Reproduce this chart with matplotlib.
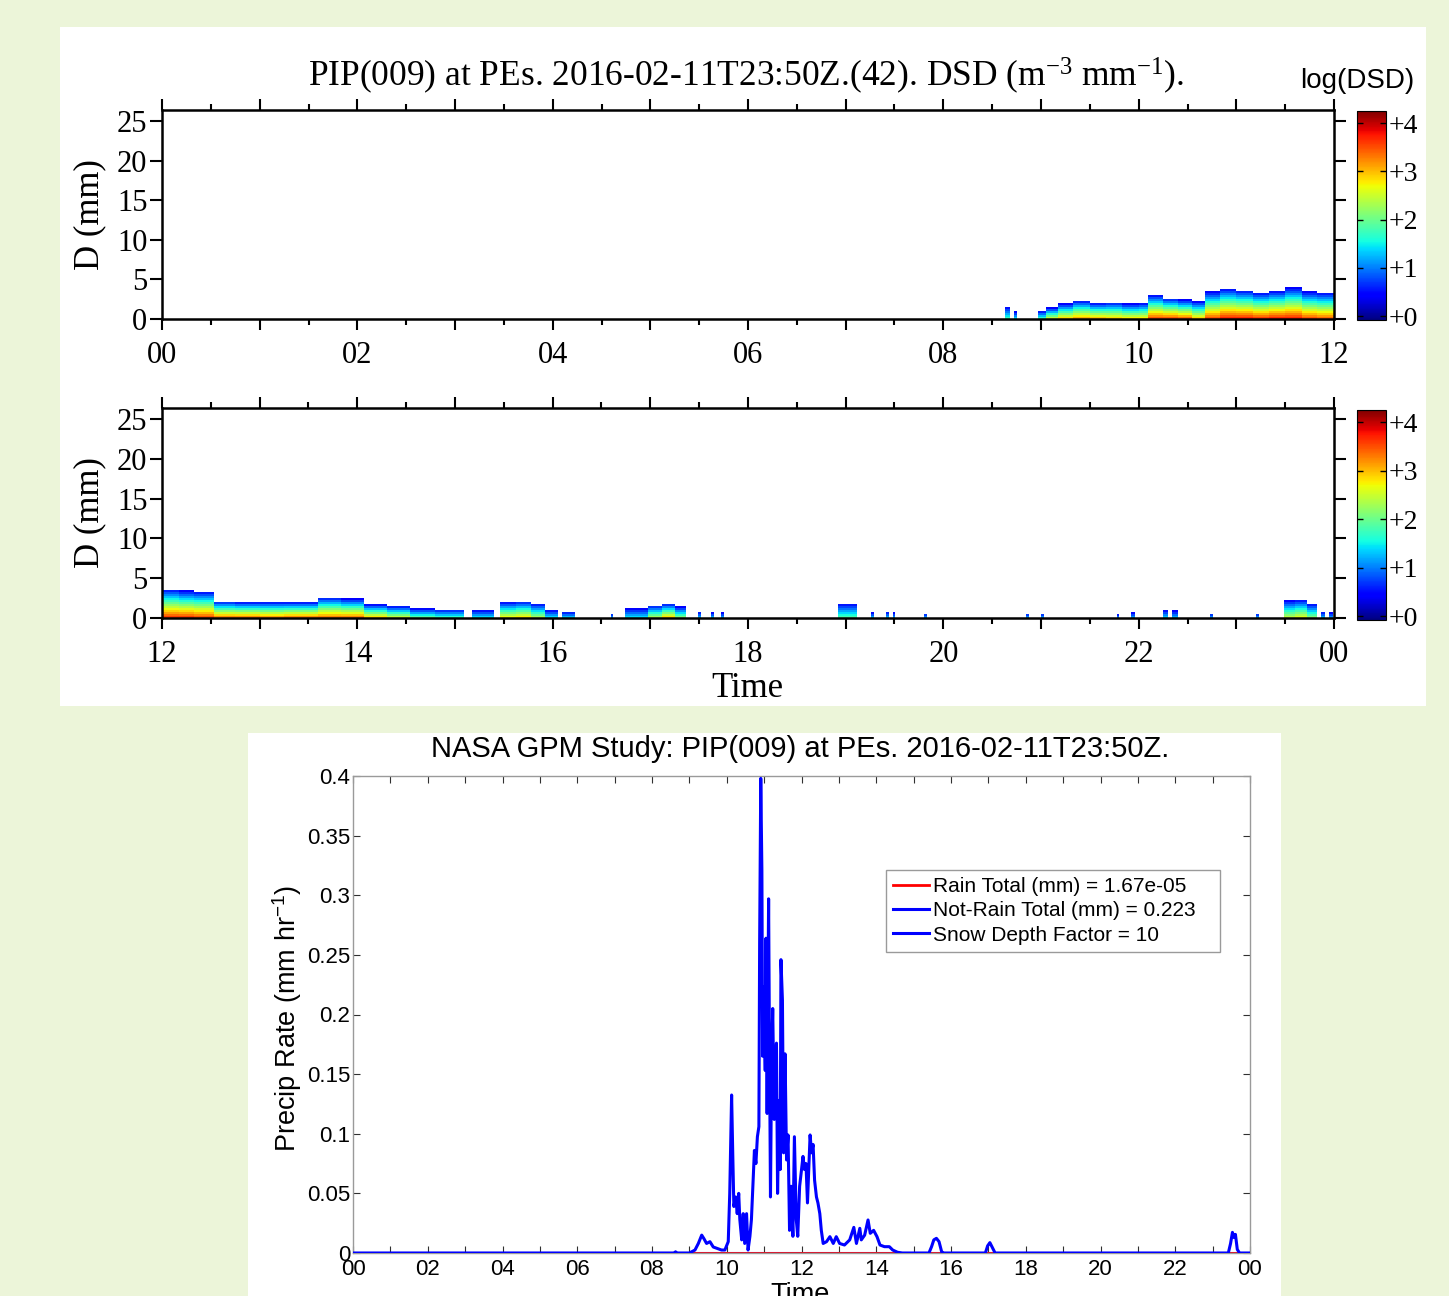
import numpy as np
import matplotlib
matplotlib.use('Agg')
import matplotlib.pyplot as plt
from matplotlib.patches import Rectangle
from matplotlib.cm import ScalarMappable
from matplotlib.colors import Normalize

W, H = 1449, 1296
SERIF = 'Liberation Serif'
SANS = 'Liberation Sans'
plt.rcParams['font.family'] = SERIF
plt.rcParams['axes.unicode_minus'] = False

# --- DSD segments 00-12 (hours, top diameter mm, peak log10 DSD)
top_start = [8.63, 8.72, 8.97, 9.05, 9.17, 9.33, 9.50, 9.67, 9.83, 10.00, 10.10,
             10.25, 10.40, 10.55, 10.68, 10.83, 11.00, 11.17, 11.33, 11.50, 11.67, 11.83]
top_end = [8.68, 8.75, 9.05, 9.17, 9.33, 9.50, 9.67, 9.83, 10.00, 10.10, 10.25,
           10.40, 10.55, 10.68, 10.83, 11.00, 11.17, 11.33, 11.50, 11.67, 11.83, 12.00]
top_dmax = [1.5, 0.9, 1.0, 1.4, 1.9, 2.3, 2.0, 2.1, 1.9, 2.0, 3.0,
            2.6, 2.4, 2.2, 3.4, 3.8, 3.6, 3.3, 3.5, 3.9, 3.4, 3.3]
top_peak = [1.8, 1.5, 1.8, 2.6, 3.0, 3.2, 3.1, 3.0, 2.9, 2.9, 3.6,
            3.6, 3.5, 3.0, 3.6, 3.8, 3.8, 3.7, 3.8, 3.8, 3.6, 3.5]

# --- DSD segments 12-24
bot_start = [12.00, 12.17, 12.33, 12.53, 12.75, 13.00, 13.25, 13.60, 13.83, 14.07,
             14.30, 14.54, 14.80, 15.17, 15.46, 15.62, 15.78, 15.92, 16.10, 16.60,
             16.74, 16.98, 17.12, 17.25, 17.49, 17.62, 17.72, 18.92, 19.26, 19.41,
             19.48, 19.80, 20.85, 21.00, 21.78, 21.92, 22.25, 22.34, 22.73, 23.20,
             23.49, 23.60, 23.72, 23.87, 23.95]
bot_end = [12.17, 12.33, 12.53, 12.75, 13.00, 13.25, 13.60, 13.83, 14.07, 14.30,
           14.54, 14.80, 15.09, 15.40, 15.62, 15.78, 15.92, 16.05, 16.23, 16.62,
           16.98, 17.12, 17.25, 17.37, 17.52, 17.65, 17.75, 19.12, 19.29, 19.44,
           19.51, 19.83, 20.88, 21.03, 21.80, 21.96, 22.30, 22.40, 22.76, 23.23,
           23.60, 23.72, 23.83, 23.91, 23.99]
bot_dmax = [3.6, 3.4, 3.3, 2.1, 2.0, 2.0, 2.0, 2.6, 2.4, 1.7,
            1.5, 1.2, 1.1, 1.0, 2.0, 2.1, 1.8, 1.0, 0.8, 0.6,
            1.2, 1.6, 1.8, 1.4, 0.8, 0.7, 0.7, 1.8, 0.7, 0.8,
            0.7, 0.6, 0.6, 0.6, 0.5, 0.7, 1.0, 0.9, 0.6, 0.6,
            2.2, 2.3, 1.8, 0.8, 0.7]
bot_peak = [3.7, 3.7, 3.6, 3.4, 3.4, 3.3, 3.4, 3.4, 3.4, 3.0,
            2.6, 2.0, 1.8, 1.5, 2.8, 2.9, 2.4, 1.5, 1.4, 1.2,
            1.5, 2.4, 3.0, 2.2, 1.3, 1.3, 1.2, 1.9, 1.3, 1.3,
            1.2, 1.2, 1.2, 1.2, 1.1, 1.2, 1.4, 1.3, 1.2, 1.2,
            2.5, 2.7, 2.2, 1.3, 1.2]

# --- precip rate (mm/hr)
rate_t = [0.0, 8.60, 8.63, 8.66, 9.00,
          9.15, 9.24, 9.33, 9.39, 9.46, 9.55, 9.64, 9.73, 9.86, 9.95,
          10.04, 10.08, 10.13, 10.16, 10.19, 10.24, 10.28, 10.32, 10.35, 10.40,
          10.44, 10.48, 10.53, 10.57, 10.62, 10.66, 10.71, 10.74, 10.78, 10.82,
          10.86, 10.88, 10.91, 10.94, 10.96, 10.99, 11.03, 11.05, 11.08, 11.12,
          11.14, 11.17, 11.20, 11.23, 11.27, 11.30, 11.33, 11.36, 11.40, 11.43,
          11.45, 11.49, 11.52, 11.56, 11.60, 11.64, 11.68, 11.72, 11.77, 11.81,
          11.86, 11.90, 11.95, 11.99, 12.04, 12.08, 12.12, 12.16, 12.20, 12.23,
          12.27, 12.31, 12.35, 12.40, 12.44, 12.49, 12.53, 12.58, 12.67, 12.76,
          12.85, 12.93, 13.02, 13.15, 13.29, 13.40, 13.47, 13.56, 13.60, 13.69,
          13.78, 13.84, 13.93, 14.02, 14.10, 14.22, 14.35, 14.44, 14.57, 14.70,
          15.41, 15.48, 15.54, 15.61, 15.68, 15.75, 15.81,
          16.92, 16.98, 17.04, 17.10, 17.18,
          23.42, 23.48, 23.53, 23.57, 23.61, 23.66, 23.72, 24.0]
not_rain = [0, 0, 0.001, 0, 0,
            0.0025, 0.008, 0.015, 0.012, 0.008, 0.0095, 0.005, 0.004, 0.0025, 0.0025,
            0.0095, 0.05, 0.1325, 0.084, 0.039, 0.047, 0.033, 0.05, 0.028, 0.011,
            0.033, 0.008, 0.033, 0.0025, 0.014, 0.028, 0.064, 0.086, 0.075, 0.0975,
            0.106, 0.261, 0.398, 0.321, 0.165, 0.223, 0.153, 0.264, 0.117, 0.297,
            0.187, 0.047, 0.162, 0.205, 0.112, 0.162, 0.176, 0.05, 0.128, 0.07,
            0.246, 0.212, 0.084, 0.167, 0.078, 0.099, 0.019, 0.056, 0.014, 0.0975,
            0.028, 0.014, 0.056, 0.067, 0.081, 0.07, 0.075, 0.042, 0.075, 0.099,
            0.084, 0.091, 0.061, 0.047, 0.042, 0.033, 0.019, 0.008, 0.0095, 0.0137,
            0.008, 0.0137, 0.008, 0.0067, 0.011, 0.0215, 0.008, 0.0207, 0.011, 0.015,
            0.0277, 0.0165, 0.019, 0.0137, 0.0067, 0.0053, 0.0053, 0.0025, 0.0006, 0,
            0, 0.0053, 0.011, 0.0123, 0.0095, 0.001, 0,
            0, 0.006, 0.0087, 0.005, 0,
            0, 0.008, 0.0173, 0.013, 0.0156, 0.003, 0, 0]
rain_t = [0.0, 24.0]
rain = [0.0, 0.0]
snow_t = [0.0, 24.0]
snow_depth = [0.0, 0.0]

top_labels = ['00', '02', '04', '06', '08', '10', '12']
bot_labels = ['12', '14', '16', '18', '20', '22', '00']
rate_labels = ['00', '02', '04', '06', '08', '10', '12', '14', '16', '18', '20', '22', '00']


def fbox(x0, y0, x1, y1):
    return [x0 / W, 1 - y1 / H, (x1 - x0) / W, (y1 - y0) / H]


fig = plt.figure(figsize=(W / 100, H / 100), dpi=100)
fig.patch.set_facecolor('#ecf5d9')
fig.add_artist(Rectangle((60 / W, 1 - 706 / H), 1366 / W, 679 / H,
                         transform=fig.transFigure, facecolor='white',
                         edgecolor='none', zorder=-2))
fig.add_artist(Rectangle((248 / W, 0), 1033 / W, 1 - 733 / H,
                         transform=fig.transFigure, facecolor='white',
                         edgecolor='none', zorder=-2))

norm = Normalize(vmin=-0.08, vmax=4.25)
d_edges = np.arange(0, 5.01, 0.25)
d_mid = 0.5 * (d_edges[:-1] + d_edges[1:])


def draw_dsd(ax, starts, ends, dmax, peak, x0, labels):
    for s, e, dm, pk in zip(starts, ends, dmax, peak):
        col = pk - (pk - 0.4) * d_mid / dm
        col = np.where(d_mid <= dm, col, np.nan)
        ax.pcolormesh([s, e], d_edges, np.ma.masked_invalid(col)[:, None],
                      cmap='jet', norm=norm, shading='flat', antialiased=False)
    ax.set_xlim(x0, x0 + 12)
    ax.set_ylim(0, 26.4)
    ax.set_xticks(np.arange(x0, x0 + 12.1, 1))
    ax.set_xticklabels([labels[i // 2] if i % 2 == 0 else '' for i in range(13)])
    ax.set_xticks(np.arange(x0, x0 + 12.1, 0.5), minor=True)
    ax.set_yticks([0, 5, 10, 15, 20, 25])
    ax.tick_params(which='both', direction='out', top=True, right=True,
                   width=1.5, labelsize=22)
    ax.tick_params(axis='x', which='major', length=8, pad=8)
    ax.tick_params(axis='x', which='minor', length=4.5)
    ax.tick_params(axis='y', length=8.5, pad=2)
    for sp in ax.spines.values():
        sp.set_linewidth(1.8)


ax1 = fig.add_axes(fbox(162, 110, 1334, 319))
draw_dsd(ax1, top_start, top_end, top_dmax, top_peak, 0, top_labels)
ax2 = fig.add_axes(fbox(162, 408, 1334, 618))
draw_dsd(ax2, bot_start, bot_end, bot_dmax, bot_peak, 12, bot_labels)

sm = ScalarMappable(norm=norm, cmap='jet')
for box in (fbox(1357, 111, 1386, 320), fbox(1357, 410, 1386, 620)):
    cax = fig.add_axes(box)
    cb = fig.colorbar(sm, cax=cax, ticks=[0, 1, 2, 3, 4])
    cb.set_ticklabels(['+0', '+1', '+2', '+3', '+4'])
    cb.outline.set_linewidth(0.8)
    cax.tick_params(direction='in', left=True, right=True, length=4,
                    width=1, labelsize=20, pad=2)

fig.text(746 / W, 1 - 86 / H,
         r'PIP(009) at PEs. 2016-02-11T23:50Z.(42). DSD (m$\mathregular{^{-3}}$ mm$\mathregular{^{-1}}$).',
         ha='center', va='baseline', fontsize=25.5, family=SERIF)
fig.text(1357 / W, 1 - 88 / H, 'log(DSD)', ha='center', va='baseline',
         fontsize=20, family=SANS)
for yc in (215, 513):
    fig.text(90 / W, 1 - yc / H, 'D (mm)', rotation=90, ha='center',
             va='center', fontsize=25, family=SERIF)
fig.text(747 / W, 1 - 697 / H, 'Time', ha='center', va='baseline',
         fontsize=25, family=SERIF)

# --- precip rate panel
ax3 = fig.add_axes(fbox(353, 776, 1250, 1253))
l_snow, = ax3.plot(snow_t, snow_depth, color='#0000ff', lw=2.2, zorder=1)
l_rain, = ax3.plot(rain_t, rain, color='#ff0000', lw=2.0, zorder=2)
l_nr, = ax3.plot(rate_t, not_rain, color='#0000ff', lw=2.2, zorder=3)
ax3.set_xlim(0, 24)
ax3.set_ylim(0, 0.4)
ax3.set_xticks(np.arange(0, 24.1, 1))
ax3.set_xticklabels([rate_labels[i // 2] if i % 2 == 0 else '' for i in range(25)])
ax3.set_yticks(np.arange(0, 0.401, 0.05))
ax3.set_yticklabels(['0', '0.05', '0.1', '0.15', '0.2', '0.25', '0.3', '0.35', '0.4'])
ax3.tick_params(direction='in', top=True, right=True, length=5, width=0.8,
                color='#303030', labelcolor='k', labelsize=16)
ax3.tick_params(axis='x', pad=4)
ax3.tick_params(axis='y', pad=2)
for lbl in ax3.get_xticklabels() + ax3.get_yticklabels():
    lbl.set_fontfamily(SANS)
for sp in ax3.spines.values():
    sp.set_color('#9a9a9a')
    sp.set_linewidth(1.0)

leg = ax3.legend([l_rain, l_nr, l_snow],
                 ['Rain Total (mm) = 1.67e-05   ', 'Not-Rain Total (mm) = 0.223   ',
                  'Snow Depth Factor = 10   '],
                 loc='upper right', bbox_to_anchor=(0.9666, 0.803),
                 prop={'family': SANS, 'size': 15}, fancybox=False,
                 framealpha=1, edgecolor='#9a9a9a', handlelength=1.7,
                 handletextpad=0.2, labelspacing=0.25, borderpad=0.35,
                 borderaxespad=0)
leg.get_frame().set_linewidth(1.0)

fig.text(800 / W, 1 - 757 / H,
         'NASA GPM Study: PIP(009) at PEs. 2016-02-11T23:50Z.',
         ha='center', va='baseline', fontsize=21, family=SANS)
fig.text(287 / W, 1 - 1018 / H, r'Precip Rate (mm hr$\mathregular{^{-1}}$)',
         rotation=90, ha='center', va='center', fontsize=19.5, family=SANS)
fig.text(800 / W, 1 - 1282 / H, 'Time', ha='center', va='top',
         fontsize=19.5, family=SANS)

fig.savefig('out.png', dpi=100, facecolor=fig.get_facecolor())
